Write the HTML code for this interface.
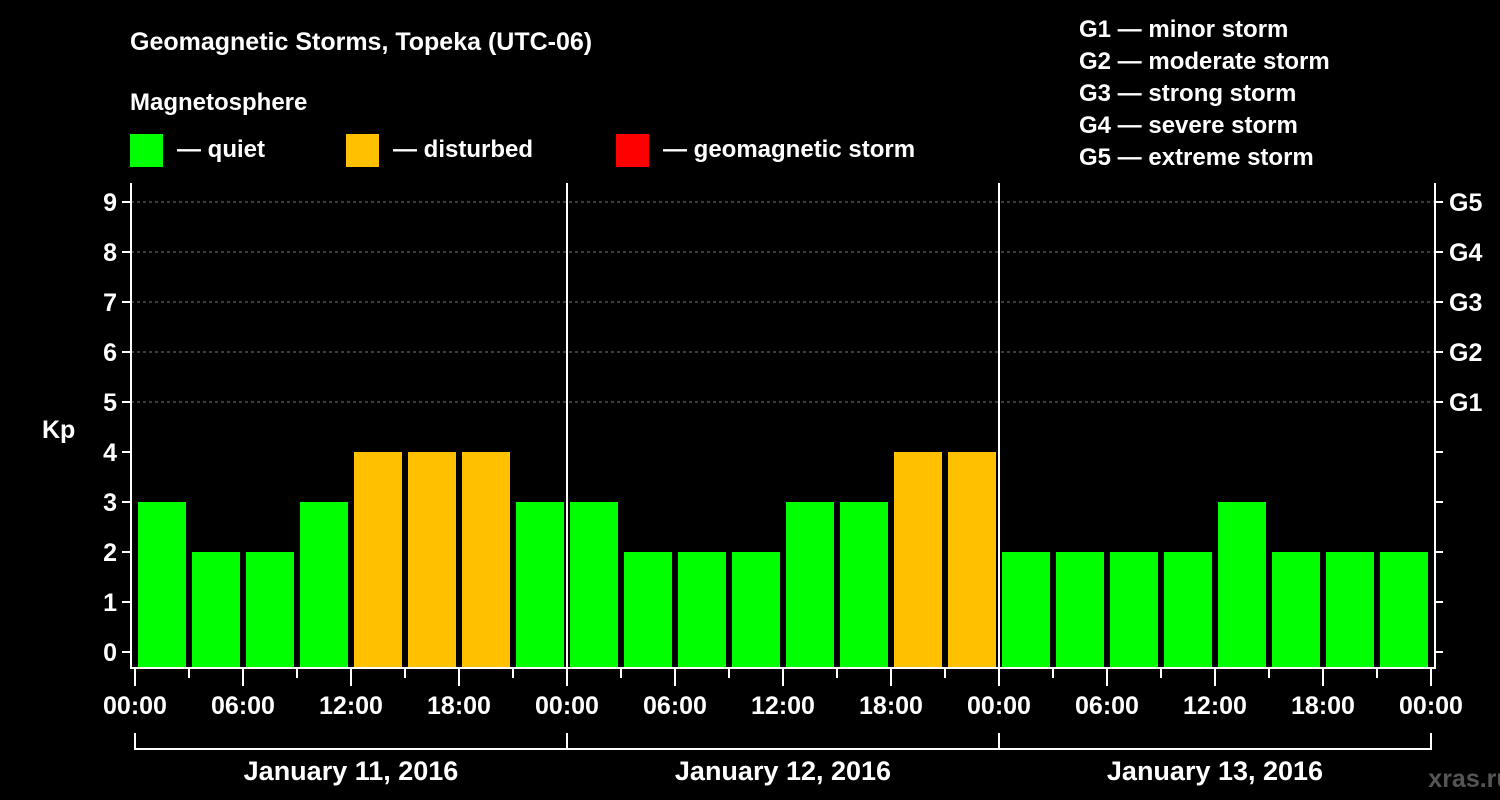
<!DOCTYPE html>
<html><head><meta charset="utf-8"><style>
body{margin:0;background:#000;}
svg{display:block;font-family:"Liberation Sans",Arial,sans-serif;font-weight:bold;}
</style></head><body>
<svg id="c" width="1500" height="800" viewBox="0 0 1500 800">
<rect width="1500" height="800" fill="#000"/>
<text x="130" y="50" fill="#fff" font-size="25">Geomagnetic Storms, Topeka (UTC-06)</text>
<text x="130" y="110" fill="#fff" font-size="24">Magnetosphere</text>
<g><rect x="130" y="134" width="33" height="33" fill="#00ff00"/><text x="177" y="157" fill="#fff" font-size="24">— quiet</text></g>
<g><rect x="346" y="134" width="33" height="33" fill="#ffc000"/><text x="393" y="157" fill="#fff" font-size="24">— disturbed</text></g>
<g><rect x="616" y="134" width="33" height="33" fill="#ff0000"/><text x="663" y="157" fill="#fff" font-size="24">— geomagnetic storm</text></g>
<g fill="#fff" font-size="24">
<text x="1079" y="37">G1 — minor storm</text>
<text x="1079" y="69">G2 — moderate storm</text>
<text x="1079" y="101">G3 — strong storm</text>
<text x="1079" y="133">G4 — severe storm</text>
<text x="1079" y="165">G5 — extreme storm</text>
</g>
<text x="42" y="438" fill="#fff" font-size="25">Kp</text>
<text x="1470" y="787" fill="#555" font-size="25" text-anchor="middle">xras.ru</text>
<g id="plot"></g>
</svg>
<script>
const kpValues=[3,2,2,3,4,4,4,3, 3,2,2,2,3,3,4,4, 2,2,2,2,3,2,2,2];
const dayLabels=["January 11, 2016","January 12, 2016","January 13, 2016"];
const hourLabels=["00:00","06:00","12:00","18:00"];
const yTicks=[0,1,2,3,4,5,6,7,8,9];
const gLabels=["G1","G2","G3","G4","G5"];

const NS="http://www.w3.org/2000/svg";
const g=document.getElementById('plot');
const X0=135,HOUR=18,Y0=652,UNIT=50,PL=131,PR=1435,PT=183,PB=668;
const xs=h=>X0+h*HOUR, ys=v=>Y0-v*UNIT;
function mk(t,a){const e=document.createElementNS(NS,t);for(const k in a)e.setAttribute(k,a[k]);g.appendChild(e);return e;}
function color(v){return v>=5?'#ff0000':v>=4?'#ffc000':'#00ff00';}
// grid
yTicks.forEach(v=>{if(v>=5){const l=mk('line',{x1:PL,x2:PR,y1:ys(v),y2:ys(v),stroke:'#777','stroke-dasharray':'3,3'});

}});
// bars
kpValues.forEach((v,i)=>{const r=mk('rect',{x:xs(i*3)+3,y:ys(v),width:3*HOUR-6,height:PB-1-ys(v),fill:color(v)});

});
// axes frame
const fr=mk('path',{d:`M${PL},${PT}V${PB}H${PR}V${PT}`,stroke:'#fff','stroke-width':2,fill:'none'});


// day separators
for(let d=1;d<3;d++){const l=mk('line',{x1:xs(d*24),x2:xs(d*24),y1:PT,y2:PB,stroke:'#fff','stroke-width':2});

}
// y ticks & labels
yTicks.forEach(v=>{mk('line',{x1:PL-9,x2:PL,y1:ys(v),y2:ys(v),stroke:'#fff','stroke-width':2});
mk('line',{x1:PR,x2:PR+8,y1:ys(v),y2:ys(v),stroke:'#fff','stroke-width':2});
const t=mk('text',{x:PL-14,y:ys(v)+9,fill:'#fff','font-size':25,'text-anchor':'end'});t.textContent=v;

});
gLabels.forEach((s,i)=>{const t=mk('text',{x:1449,y:ys(5+i)+9,fill:'#fff','font-size':25});t.textContent=s;

});
// x ticks
for(let h=0;h<=72;h+=3){const major=h%6===0;mk('line',{x1:xs(h),x2:xs(h),y1:PB,y2:PB+(major?18:10),stroke:'#fff','stroke-width':2});
if(major){const t=mk('text',{x:xs(h),y:714,fill:'#fff','font-size':25,'text-anchor':'middle'});t.textContent=hourLabels[(h/6)%4];

}}
// day brackets
mk('path',{d:`M${xs(0)},733V749H${xs(72)}V733`,stroke:'#fff','stroke-width':2,fill:'none'});
dayLabels.forEach((s,d)=>{mk('line',{x1:xs(d*24),x2:xs(d*24),y1:733,y2:749,stroke:'#fff','stroke-width':2});
const t=mk('text',{x:xs(d*24+12),y:780,fill:'#fff','font-size':27,'text-anchor':'middle'});t.textContent=s;

});
</script>
</body></html>
